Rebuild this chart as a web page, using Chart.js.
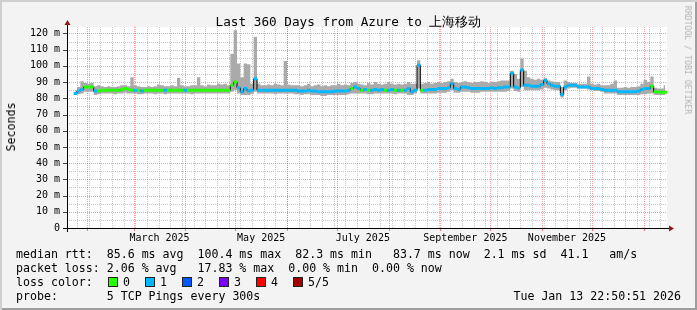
<!DOCTYPE html>
<html>
<head>
<meta charset="utf-8">
<script src="https://cdn.jsdelivr.net/npm/chart.js@4/dist/chart.umd.min.js"></script>
<style>
  body { margin: 0; background: #f3f3f3; }
  #wrap {
    position: relative; width: 697px; height: 310px; overflow: hidden;
    background: #f3f3f3;
    box-shadow: inset 2px 2px 0 #cfcfcf, inset -2px -2px 0 #9e9e9e;
    font-family: 'DejaVu Sans Mono', monospace; color: #000;
  }
  #wrap canvas { position: absolute; left: 0; top: 0; }
  .t { position: absolute; white-space: pre; line-height: 14px; font-size: 11.6px; }
  .box { position: absolute; width: 8px; height: 8px; border: 1px solid #222; }
</style>
</head>
<body>
<div id="wrap">
  <canvas id="grafico" width="697" height="310"></canvas>
  <div class="t" style="left:0;width:697px;text-align:center;top:14px;font-size:12.7px;line-height:16px">Last 360 Days from Azure to 上海移动</div>
  <div class="t" style="left:11px;top:127px;transform-origin:0 0;transform:rotate(-90deg) translate(-50%,-50%)">Seconds</div>
  <div class="t" style="left:688px;top:60px;font-size:8.2px;line-height:10px;color:#b4b4b4;transform-origin:0 0;transform:rotate(90deg) translate(-50%,-50%)">RRDTOOL / TOBI OETIKER</div>
  <div class="t" style="left:16px;top:247px">median rtt:  85.6 ms avg  100.4 ms max  82.3 ms min   83.7 ms now  2.1 ms sd  41.1   am/s</div>
  <div class="t" style="left:16px;top:261px">packet loss: 2.06 % avg   17.83 % max  0.00 % min  0.00 % now</div>
  <div class="t" style="left:16px;top:275px">loss color:</div>
  <div id="lossLegend"></div>
  <div class="t" style="left:16px;top:289px">probe:       5 TCP Pings every 300s</div>
  <div class="t" style="right:16px;top:289px">Tue Jan 13 22:50:51 2026</div>
</div>
<script>
// amostras de 2 dias, do inicio (20 jan 2025) ate 13 jan 2026
const step = 2;

const median = [null, null, 83, 84.5, 85.5, 87, 87, 87, 84.5, 84.5,
  85, 85, 85, 85, 85, 85, 85.5, 86, 85.5, 85,
  85, 85, 84.5, 85, 85, 85, 85, 85, 85, 85,
  85, 85, 85, 85, 85, 85, 85, 85, 85, 85,
  85, 85, 85, 85, 85, 85, 85, 85, 85, 88,
  90, 86.5, 84, 86, 84.5, 85, 92, 85, 85, 85,
  85, 85, 85, 85, 85, 85, 85, 85, 85, 84.5,
  84.5, 84.5, 85, 84.5, 84.5, 84, 84, 84, 84, 84,
  84.5, 84.5, 84.5, 84.5, 85, 86, 87, 86, 85, 85.5,
  85, 85, 85.5, 85, 85.5, 85, 85, 85.5, 85, 85,
  85, 85, 86, 84, 85, 100.4, 85, 85, 85.5, 85.5,
  85.5, 86, 86, 86, 86.5, 89, 86, 85.5, 87, 87,
  86.5, 86, 86, 86, 86, 86, 86, 86.5, 86, 86.5,
  86.5, 87, 87, 95.5, 87, 86.5, 97.4, 88, 88, 87.5,
  87.5, 87.5, 88.5, 91, 89, 88, 87.5, 87.5, 82.3, 87,
  88, 88, 88, 87, 87, 87, 87, 86, 86, 86,
  85.5, 85, 85, 85, 85, 84, 84, 84, 84, 84,
  84, 84.5, 85.5, 86, 86, 87.5, 84, 83.7, 83.7, 83.7];

// nivel de perda (0..5) de cada amostra
const loss = [0, 0, 1, 1, 1, 0, 0, 0, 1, 0,
  0, 0, 0, 0, 0, 0, 0, 0, 0, 0,
  1, 0, 1, 0, 0, 0, 0, 0, 0, 1,
  0, 0, 0, 0, 0, 1, 0, 0, 0, 0,
  0, 0, 0, 0, 0, 0, 0, 0, 0, 0,
  0, 1, 1, 1, 1, 1, 1, 1, 1, 1,
  1, 1, 1, 1, 1, 1, 1, 1, 1, 1,
  1, 1, 1, 1, 1, 1, 1, 1, 1, 1,
  1, 1, 1, 1, 1, 0, 1, 1, 0, 1,
  0, 1, 1, 1, 1, 0, 1, 1, 0, 1,
  0, 1, 1, 1, 1, 1, 0, 1, 1, 1,
  1, 1, 1, 1, 1, 1, 1, 1, 1, 1,
  1, 1, 1, 1, 1, 1, 1, 1, 1, 1,
  1, 1, 1, 1, 1, 1, 1, 1, 1, 1,
  1, 1, 1, 1, 1, 1, 1, 1, 1, 1,
  1, 1, 1, 1, 1, 1, 1, 1, 1, 1,
  1, 1, 1, 1, 1, 1, 1, 1, 1, 1,
  1, 1, 1, 1, 1, 0, 0, 0, 0, 0];

const smokeLo = [null, null, 82, 82.5, 83, 84, 84, 84, 82, 82.5,
  83, 83, 83, 83, 82.5, 83, 83, 83.5, 83, 83,
  83, 82.5, 82.5, 83, 83, 83, 82.5, 83, 83, 82.5,
  83, 83, 83, 83, 83, 83, 83, 82.5, 83, 83,
  83, 83, 83, 83, 83, 83, 83, 83, 83, 84,
  85, 83, 82, 82, 82, 82.5, 84, 83, 83, 83,
  83, 83, 82.5, 83, 83, 83, 83, 83, 82.5, 82.5,
  82, 82.5, 82.5, 82, 82, 82, 81.5, 81.5, 82, 82,
  82, 82, 82, 82, 82.5, 83, 83, 83, 83, 83,
  82.5, 82.5, 83, 83, 83, 83, 83, 83, 82.5, 83,
  83, 83, 82, 82, 83, 86, 83, 83, 83, 83,
  83, 83.5, 83.5, 83.5, 84, 85, 83.5, 83.5, 84, 84,
  84, 83.5, 83.5, 83.5, 84, 84, 84, 84, 84, 84,
  84, 84, 84.5, 86, 84.5, 84, 87, 85, 85, 85,
  85, 85, 85.5, 86.5, 86, 85.5, 85, 85, 80.5, 85,
  86, 86.5, 86.5, 86, 86, 86, 85.5, 85, 84.5, 84.5,
  84, 83, 83, 83, 83, 82, 82, 82, 82, 82,
  82, 82, 82.5, 82.5, 83, 83, 82, 82, 82, 82];

const smokeHi = [null, null, 85, 87, 90.5, 89.5, 89, 89.5, 87.5, 88,
  87.5, 87, 87.5, 87, 87, 87.5, 88, 88, 87.5, 93,
  88, 87.5, 87, 87, 87.5, 87, 87.5, 88.5, 88, 87.5,
  87.5, 88, 87.5, 92.5, 88, 87.5, 87.5, 88, 88, 93,
  88, 87.5, 88.5, 88, 88, 89, 88.5, 89, 88, 107.5,
  122, 101.5, 93, 101.5, 101, 89, 118, 89, 88, 88,
  88.5, 88, 89, 88.5, 88, 103, 88.5, 88, 88, 88,
  87.5, 88, 89, 87.5, 88, 88.5, 87.5, 88, 87.5, 88,
  88, 89, 88, 88.5, 88, 89.5, 90, 89, 88.5, 88,
  89.5, 88.5, 90, 89, 88.5, 89, 90, 89, 88.5, 89,
  88.5, 89, 90, 89, 89, 103.5, 89, 89.5, 90, 89,
  89.5, 90, 89.5, 90, 90.5, 92, 90, 89.5, 90, 90.5,
  90, 89.5, 90, 90, 90.5, 90, 89.5, 90, 90, 90.5,
  91, 91, 91, 97, 95, 92, 104.5, 97, 93, 92,
  91.5, 92, 91.5, 92.5, 91, 90.5, 90, 90, 87, 91,
  90, 89.5, 89.5, 89, 89, 89, 93.5, 89, 88.5, 89,
  88, 88, 88, 89, 91, 86.5, 86.5, 87, 86.5, 87,
  87, 87.5, 89, 91.5, 90, 93.5, 86.5, 86, 86, 88];

const yTicks = [0, 10, 20, 30, 40, 50, 60, 70, 80, 90, 100, 110, 120];
const monthStarts = [12, 40, 71, 101, 132, 162, 193, 224, 254, 285, 315, 346];
const labelDays = [55.5, 116.5, 177.5, 239, 300];
const monthLabels = ['March 2025', 'May 2025', 'July 2025', 'September 2025', 'November 2025'];
const lossColors = ['#26ff00', '#00b8ff', '#0059ff', '#7e00ff', '#ff0000', '#a10000'];
const lossNames = ['0', '1', '2', '3', '4', '5/5'];

// legenda das cores de perda
const leg = document.getElementById('lossLegend');
lossNames.forEach((n, i) => {
  const b = document.createElement('div');
  b.className = 'box';
  b.style.left = (108 + i * 37) + 'px';
  b.style.top = '277px';
  b.style.background = lossColors[i];
  leg.appendChild(b);
  const s = document.createElement('div');
  s.className = 't';
  s.style.left = (123 + i * 37) + 'px';
  s.style.top = '275px';
  s.textContent = n;
  leg.appendChild(s);
});

const mid = i => i * step + step / 2;
const pts = arr => arr.map((v, i) => ({ x: mid(i), y: v }));

// segmentos horizontais coloridos por nivel de perda
const lossSets = lossColors.map((c, lvl) => {
  const d = [];
  median.forEach((m, i) => {
    if (m == null || loss[i] !== lvl) return;
    d.push({ x: i * step, y: m }, { x: i * step + step, y: m }, { x: i * step + step, y: null });
  });
  return {
    data: d, borderColor: c, borderWidth: 3, pointRadius: 0,
    borderCapStyle: 'butt', fill: false, order: 0
  };
});

const rrdGrid = {
  id: 'rrdGrid',
  beforeDraw(chart) {
    const { ctx, chartArea: a } = chart;
    ctx.save();
    ctx.fillStyle = '#ffffff';
    ctx.fillRect(a.left, a.top, a.right - a.left, a.bottom - a.top);
    ctx.restore();
  },
  beforeDatasetsDraw(chart) {
    const { ctx, chartArea: a, scales: { x, y } } = chart;
    ctx.save();
    ctx.lineWidth = 1;
    ctx.setLineDash([1, 1]);
    const hline = (v, col) => {
      const py = Math.round(y.getPixelForValue(v)) + 0.5;
      ctx.strokeStyle = col;
      ctx.beginPath(); ctx.moveTo(a.left, py); ctx.lineTo(a.right, py); ctx.stroke();
    };
    const vline = (d, col) => {
      const px = Math.round(x.getPixelForValue(d)) + 0.5;
      ctx.strokeStyle = col;
      ctx.beginPath(); ctx.moveTo(px, a.top); ctx.lineTo(px, a.bottom); ctx.stroke();
    };
    for (let v = 5; v < 124; v += 10) hline(v, '#c8c8c8');
    for (let d = 6; d < 360; d += 7) vline(d, '#c8c8c8');
    yTicks.forEach(v => { if (v > 0) hline(v, 'rgba(255,0,0,0.38)'); });
    monthStarts.forEach(d => vline(d, 'rgba(255,0,0,0.38)'));
    ctx.restore();
  },
  afterDraw(chart) {
    const { ctx, chartArea: a, scales: { x, y } } = chart;
    ctx.save();
    ctx.lineWidth = 1;
    // marcas dos meses abaixo do eixo
    ctx.strokeStyle = 'rgba(255,0,0,0.5)';
    monthStarts.forEach(d => {
      const px = Math.round(x.getPixelForValue(d)) + 0.5;
      ctx.beginPath(); ctx.moveTo(px, a.bottom); ctx.lineTo(px, a.bottom + 3); ctx.stroke();
    });
    // marcas do eixo y
    ctx.strokeStyle = '#444';
    yTicks.forEach(v => {
      const py = Math.round(y.getPixelForValue(v)) + 0.5;
      ctx.beginPath(); ctx.moveTo(a.left - 4, py); ctx.lineTo(a.left, py); ctx.stroke();
    });
    // eixos
    ctx.strokeStyle = '#000';
    const by = Math.round(a.bottom) + 0.5, lx = Math.round(a.left) + 0.5;
    ctx.beginPath(); ctx.moveTo(a.left - 4, by); ctx.lineTo(a.right + 4, by); ctx.stroke();
    ctx.beginPath(); ctx.moveTo(lx, a.bottom + 4); ctx.lineTo(lx, a.top - 3); ctx.stroke();
    // setas
    ctx.fillStyle = '#8e1a1a';
    ctx.beginPath(); ctx.moveTo(a.right + 2, by - 3); ctx.lineTo(a.right + 7, by); ctx.lineTo(a.right + 2, by + 3); ctx.fill();
    ctx.beginPath(); ctx.moveTo(lx - 3, a.top - 2); ctx.lineTo(lx, a.top - 7); ctx.lineTo(lx + 3, a.top - 2); ctx.fill();
    ctx.restore();
  }
};

new Chart(document.getElementById('grafico'), {
  type: 'line',
  data: {
    datasets: [
      ...lossSets,
      { data: pts(median), borderColor: '#000', borderWidth: 1, pointRadius: 0, stepped: 'middle', fill: false, order: 1 },
      { data: pts(smokeHi), borderWidth: 0, pointRadius: 0, stepped: 'middle', fill: '+1', backgroundColor: '#aaaaaa', order: 2 },
      { data: pts(smokeLo), borderWidth: 0, pointRadius: 0, stepped: 'middle', fill: false, order: 3 }
    ]
  },
  options: {
    responsive: false,
    animation: false,
    events: [],
    layout: { padding: { left: 0, top: 27, right: 30, bottom: 0 } },
    plugins: { legend: { display: false }, tooltip: { enabled: false } },
    scales: {
      x: {
        type: 'linear', min: 0, max: 360,
        afterBuildTicks: s => { s.ticks = labelDays.map(v => ({ value: v })); },
        afterFit: s => { s.height = 82; },
        grid: { display: false, drawTicks: false },
        border: { display: false },
        ticks: {
          autoSkip: false, maxRotation: 0, minRotation: 0, padding: 4, color: '#000',
          font: { family: 'DejaVu Sans Mono', size: 10 },
          callback: (v, i) => monthLabels[i]
        }
      },
      y: {
        min: 0, max: 124,
        afterBuildTicks: s => { s.ticks = yTicks.map(v => ({ value: v })); },
        afterFit: s => { s.width = 67; },
        grid: { display: false, drawTicks: false },
        border: { display: false },
        ticks: {
          padding: 7, color: '#000',
          font: { family: 'DejaVu Sans Mono', size: 10 },
          callback: v => v === 0 ? '0' : v + ' m'
        }
      }
    }
  },
  plugins: [rrdGrid]
});
</script>
</body>
</html>
